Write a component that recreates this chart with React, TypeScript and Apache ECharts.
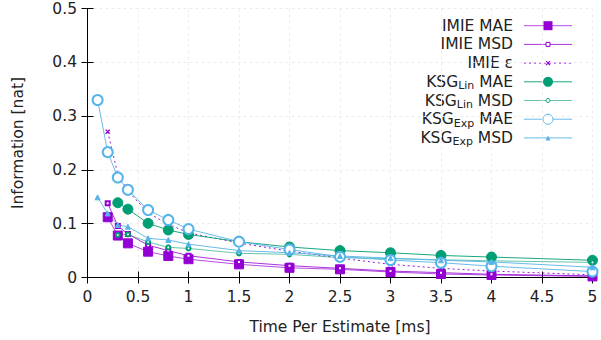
import React, { useEffect, useRef } from "react";
import * as echarts from "echarts";

const xs = [0.1, 0.2, 0.3, 0.4, 0.6, 0.8, 1, 1.5, 2, 2.5, 3, 3.5, 4, 5];
const imieMae = [null, 0.112, 0.078, 0.0635, 0.048, 0.04, 0.034, 0.0245, 0.018, 0.0152, 0.0102, 0.0065, 0.0046, 0.002];
const imieMsd = [null, 0.138, 0.0957, 0.081, 0.06, 0.05, 0.0405, 0.029, 0.022, 0.017, 0.012, 0.009, 0.006, 0.003];
const imieEps = [null, 0.271, 0.192, 0.161, 0.12, 0.099, 0.083, 0.064, 0.049, 0.036, 0.0245, 0.017, 0.012, 0.005];
const ksgLinMae = [null, null, 0.139, 0.127, 0.1007, 0.0883, 0.08, 0.0666, 0.0567, 0.05, 0.046, 0.041, 0.038, 0.032];
const ksgLinMsd = [null, null, 0.079, 0.08, 0.066, 0.056, 0.054, 0.045, 0.043, 0.037, 0.035, 0.033, 0.031, 0.028];
const ksgExpMae = [0.33, 0.233, 0.186, 0.163, 0.1255, 0.107, 0.09, 0.0666, 0.052, 0.0385, 0.0325, 0.0275, 0.021, 0.011];
const ksgExpMsd = [0.149, 0.119, 0.0976, 0.0944, 0.0728, 0.0697, 0.062, 0.05, 0.046, 0.04, 0.036, 0.032, 0.029, 0.019];

const xTicks = [0, 0.5, 1, 1.5, 2, 2.5, 3, 3.5, 4, 4.5, 5];
const yTicks = [0, 0.1, 0.2, 0.3, 0.4, 0.5];
const legendNames = ["IMIE MAE", "IMIE MSD", "IMIE ε", "KSG_Lin MAE", "KSG_Lin MSD", "KSG_Exp MAE", "KSG_Exp MSD"];

const PURPLE = "#9400d3";
const GREEN = "#009e73";
const BLUE = "#56b4e9";
const FONT = "DejaVu Sans";
const FS = 15.5;
const TXT = "#222";

const pairs = (ys: (number | null)[]) =>
  xs.map((x, i) => (ys[i] == null ? null : [x, ys[i]])).filter((p) => p !== null);

const CROSS = "path://M0,1L1,0L5,4L9,0L10,1L6,5L10,9L9,10L5,6L1,10L0,9L4,5Z";

type Spec = {
  name: string;
  ys: (number | null)[];
  color: string;
  symbol: string;
  size: number;
  dashed: boolean;
  lineOpacity: number;
};

const specs: Spec[] = [
  { name: legendNames[0], ys: imieMae, color: PURPLE, symbol: "rect", size: 9, dashed: false, lineOpacity: 0.7 },
  { name: legendNames[1], ys: imieMsd, color: PURPLE, symbol: "emptyRect", size: 4, dashed: false, lineOpacity: 0.8 },
  { name: legendNames[2], ys: imieEps, color: PURPLE, symbol: CROSS, size: 4, dashed: true, lineOpacity: 0.9 },
  { name: legendNames[3], ys: ksgLinMae, color: GREEN, symbol: "circle", size: 10, dashed: false, lineOpacity: 0.9 },
  { name: legendNames[4], ys: ksgLinMsd, color: GREEN, symbol: "emptyCircle", size: 4, dashed: false, lineOpacity: 0.6 },
  { name: legendNames[5], ys: ksgExpMae, color: BLUE, symbol: "emptyCircle", size: 10, dashed: false, lineOpacity: 0.9 },
  { name: legendNames[6], ys: ksgExpMsd, color: BLUE, symbol: "triangle", size: 5, dashed: false, lineOpacity: 0.9 },
];

function legendMarker(s: Spec, cx: number, cy: number): any {
  const r = s.size / 2;
  switch (s.symbol) {
    case "rect":
      return { type: "rect", shape: { x: cx - r, y: cy - r, width: s.size, height: s.size }, style: { fill: s.color } };
    case "emptyRect":
      return {
        type: "rect",
        shape: { x: cx - r, y: cy - r, width: s.size, height: s.size },
        style: { fill: "#fff", stroke: s.color, lineWidth: 1 },
      };
    case "circle":
      return { type: "circle", shape: { cx, cy, r }, style: { fill: s.color } };
    case "emptyCircle":
      return { type: "circle", shape: { cx, cy, r }, style: { fill: "#fff", stroke: s.color, lineWidth: 1 } };
    case "triangle":
      return {
        type: "polygon",
        shape: { points: [[cx, cy - r], [cx + r, cy + r], [cx - r, cy + r]] },
        style: { fill: s.color },
      };
    default:
      return {
        type: "group",
        children: [
          { type: "line", shape: { x1: cx - r, y1: cy - r, x2: cx + r, y2: cy + r }, style: { stroke: s.color, lineWidth: 1.3 } },
          { type: "line", shape: { x1: cx - r, y1: cy + r, x2: cx + r, y2: cy - r }, style: { stroke: s.color, lineWidth: 1.3 } },
        ],
      };
  }
}

function labelRich(name: string) {
  const m = name.match(/^KSG_(\w+) (.*)$/);
  if (m) return `{a|KSG}{s|${m[1]}}{a| ${m[2]}}`;
  return `{a|${name}}`;
}

function App() {
  const ref = useRef<HTMLDivElement>(null);
  useEffect(() => {
    const chart = echarts.init(ref.current!, null, { renderer: "svg" });
    const axisCommon = {
      type: "value",
      axisLine: { show: true, lineStyle: { color: "#000", width: 1 } },
      axisTick: { show: true, inside: true, length: 6, lineStyle: { color: "#000", width: 1 } },
      splitLine: { show: false },
    };
    const legendTop = 25.7;
    const legendStep = 18.7;
    const graphics: any[] = [];
    specs.forEach((s, i) => {
      const cy = legendTop + i * legendStep;
      graphics.push({
        type: "text",
        style: {
          text: labelRich(s.name),
          x: 513,
          y: cy,
          align: "right",
          verticalAlign: "middle",
          fill: TXT,
          fontFamily: FONT,
          fontSize: FS,
          rich: {
            a: { fontFamily: FONT, fontSize: FS, fill: TXT, color: TXT },
            s: { fontFamily: FONT, fontSize: 11, fill: TXT, color: TXT, padding: [8, 0, 0, 0] },
          },
        },
      });
      graphics.push({
        type: "line",
        shape: { x1: 524, y1: cy, x2: 572, y2: cy },
        style: { stroke: s.color, lineWidth: 1, opacity: s.lineOpacity, lineDash: s.dashed ? [2, 3] : null },
      });
      graphics.push(legendMarker(s, 548, cy));
    });

    chart.setOption({
      animation: false,
      backgroundColor: "#fff",
      textStyle: { fontFamily: FONT },
      grid: { left: 87.5, right: 8.5, top: 8.5, bottom: 62.5 },
      xAxis: [
        {
          ...axisCommon,
          min: xTicks[0],
          max: xTicks[xTicks.length - 1],
          interval: 0.5,
          name: "Time Per Estimate [ms]",
          nameLocation: "middle",
          nameGap: 41,
          nameTextStyle: { fontFamily: FONT, fontSize: FS, color: TXT },
          axisLabel: { margin: 11.5, fontFamily: FONT, fontSize: FS, color: TXT },
          splitLine: { show: true, lineStyle: { color: "#ececec", type: [3, 3], width: 1 } },
        },
        {
          ...axisCommon,
          position: "top",
          min: xTicks[0],
          max: xTicks[xTicks.length - 1],
          interval: 0.5,
          axisLabel: { show: false },
        },
      ],
      yAxis: [
        {
          ...axisCommon,
          min: yTicks[0],
          max: yTicks[yTicks.length - 1],
          interval: 0.1,
          name: "Information [nat]",
          nameLocation: "middle",
          nameGap: 62,
          nameTextStyle: { fontFamily: FONT, fontSize: FS, color: TXT },
          axisLabel: { margin: 10.5, fontFamily: FONT, fontSize: FS, color: TXT },
          splitLine: { show: true, lineStyle: { color: "#ececec", type: [3, 3], width: 1 } },
        },
        {
          ...axisCommon,
          position: "right",
          min: yTicks[0],
          max: yTicks[yTicks.length - 1],
          interval: 0.1,
          axisLabel: { show: false },
        },
      ],
      graphic: graphics,
      series: specs.map((s) => ({
        name: s.name,
        type: "line",
        data: pairs(s.ys),
        symbol: s.symbol,
        symbolSize: s.size,
        showAllSymbol: true,
        itemStyle: { color: s.color, borderColor: s.color, borderWidth: 1 },
        lineStyle: { color: s.color, width: 1, type: s.dashed ? [2, 3] : "solid", opacity: s.lineOpacity },
        emphasis: { disabled: true },
        z: 3,
      })),
    });
    return () => chart.dispose();
  }, []);
  return <div ref={ref} style={{ width: 601, height: 340, position: "absolute", left: 0, top: 0 }} />;
}

export default App;
